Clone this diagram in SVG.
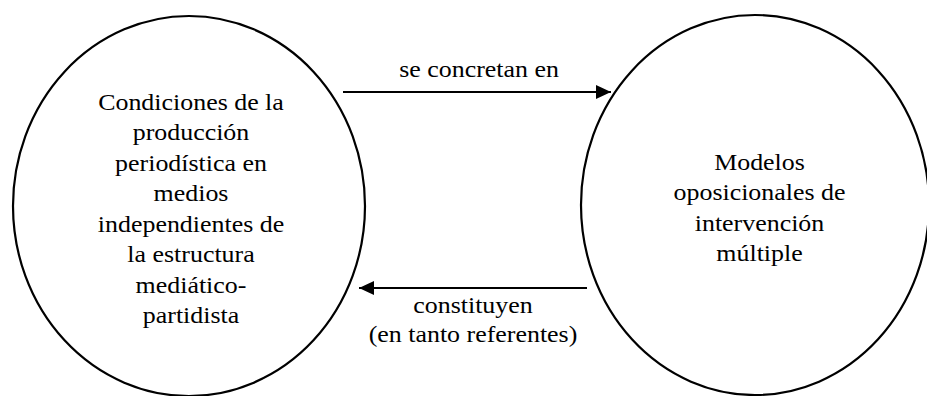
<svg xmlns="http://www.w3.org/2000/svg" width="927" height="396" viewBox="0 0 927 396">
<defs>
<style>
.node{fill:#fff;stroke:#000;stroke-width:2.2}
.t{font-family:"Liberation Serif","Times New Roman",serif;font-size:24px;fill:#000;text-anchor:middle}
.edge{stroke:#000;stroke-width:2.2;fill:none}
</style>
<marker id="ah" markerUnits="userSpaceOnUse" markerWidth="16" markerHeight="16" refX="15" refY="7" orient="auto">
<path d="M0,0 L15,7 L0,14 z" fill="#000"/>
</marker>
</defs>
<rect width="927" height="396" fill="#fff"/>
<g id="node-condiciones">
<ellipse class="node" cx="189" cy="206" rx="176" ry="190"/>
<g transform="translate(191,0) scale(1.08,1)">
<text class="t" x="0" y="110">Condiciones de la</text>
<text class="t" x="0" y="140.5">producción</text>
<text class="t" x="0" y="171">periodística en</text>
<text class="t" x="0" y="201.5">medios</text>
<text class="t" x="0" y="232">independientes de</text>
<text class="t" x="0" y="262.5">la estructura</text>
<text class="t" x="0" y="293">mediático-</text>
<text class="t" x="0" y="323.5">partidista</text>
</g>
</g>
<g id="node-modelos">
<ellipse class="node" cx="755" cy="205" rx="174" ry="190"/>
<g transform="translate(759.5,0) scale(1.08,1)">
<text class="t" x="0" y="170">Modelos</text>
<text class="t" x="0" y="200.5">oposicionales de</text>
<text class="t" x="0" y="231">intervención</text>
<text class="t" x="0" y="261.5">múltiple</text>
</g>
</g>
<g id="connectors">
<line class="edge" x1="343" y1="92" x2="611" y2="92" marker-end="url(#ah)"/>
<line class="edge" x1="587" y1="288" x2="359" y2="288" marker-end="url(#ah)"/>
<g transform="translate(479,0) scale(1.08,1)">
<text class="t" x="0" y="77.5">se concretan en</text>
</g>
<g transform="translate(473,0) scale(1.08,1)">
<text class="t" x="0" y="313">constituyen</text>
<text class="t" x="0" y="342">(en tanto referentes)</text>
</g>
</g>
</svg>
